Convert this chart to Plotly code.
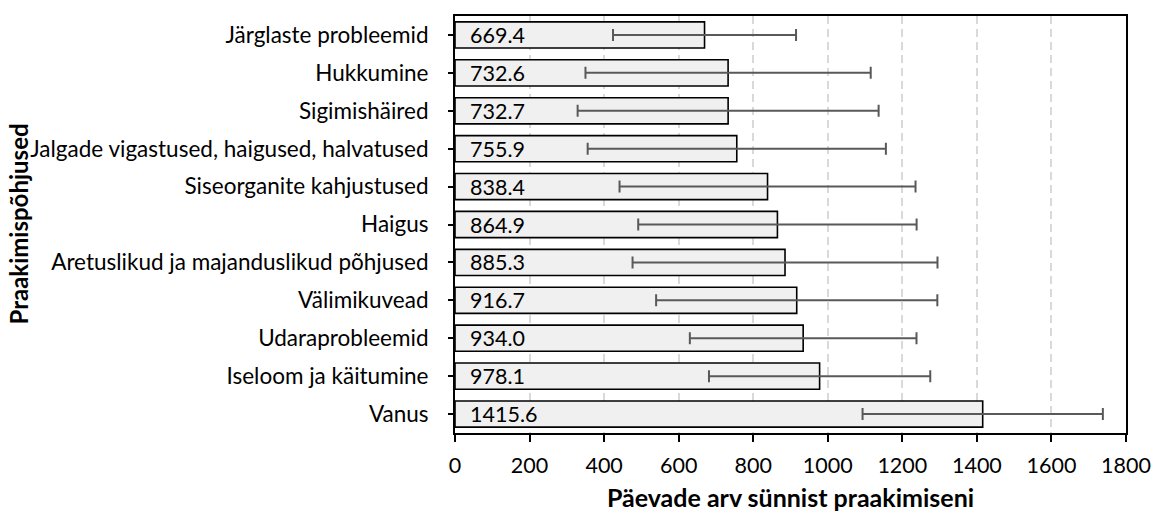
import plotly.graph_objects as go

categories = [
    "Järglaste probleemid",
    "Hukkumine",
    "Sigimishäired",
    "Jalgade vigastused, haigused, halvatused",
    "Siseorganite kahjustused",
    "Haigus",
    "Aretuslikud ja majanduslikud põhjused",
    "Välimikuvead",
    "Udaraprobleemid",
    "Iseloom ja käitumine",
    "Vanus",
]
mean_days = [669.4, 732.6, 732.7, 755.9, 838.4, 864.9, 885.3, 916.7, 934.0, 978.1, 1415.6]
std_days = [245.5, 382.6, 403.7, 400.0, 397.0, 373.4, 409.0, 377.2, 304.0, 296.8, 322.3]
x_ticks = [0, 200, 400, 600, 800, 1000, 1200, 1400, 1600, 1800]

FONT = "Lato"

fig = go.Figure()
fig.add_trace(go.Bar(
    x=mean_days,
    y=categories,
    orientation="h",
    marker=dict(color="#f0f0f0", line=dict(color="black", width=1.6)),
    error_x=dict(type="data", array=std_days, visible=True,
                 color="#595959", thickness=2, width=6),
    showlegend=False,
    hoverinfo="x+y",
))

for c, v in zip(categories, mean_days):
    fig.add_annotation(x=0, y=c, text=f"{v:.1f}", xref="x", yref="y",
                       xanchor="left", yanchor="middle", xshift=13,
                       showarrow=False,
                       font=dict(family=FONT, size=21.5, color="black"))

fig.update_layout(
    width=1153, height=516,
    margin=dict(l=455, r=27, t=16, b=83, autoexpand=False),
    paper_bgcolor="white", plot_bgcolor="white",
    bargap=0.31,
    font=dict(family=FONT, size=22, color="black"),
)
fig.update_xaxes(
    automargin=False,
    range=[0, 1800], tickvals=x_ticks, ticktext=[str(t) for t in x_ticks],
    showgrid=True, gridcolor="#d9d9d9", gridwidth=1.5, griddash="8px,5px",
    zeroline=False, showline=True, linecolor="black", linewidth=2, mirror=True,
    ticks="outside", ticklen=7, tickwidth=1.5, tickcolor="black",
    ticklabelstandoff=5,
    tickfont=dict(family=FONT, size=21.5, color="black"),
    title=dict(text="<b>Päevade arv sünnist praakimiseni</b>", standoff=13,
               font=dict(family=FONT, size=25, color="black")),
)
fig.update_yaxes(
    automargin=False,
    autorange="reversed",
    showgrid=False, zeroline=False, showline=True, linecolor="black",
    linewidth=2, mirror=True,
    ticks="outside", ticklen=5, tickwidth=1.5, tickcolor="black",
    ticklabelstandoff=15,
    tickfont=dict(family=FONT, size=22.5, color="black"),
)
fig.add_annotation(text="<b>Praakimispõhjused</b>", xref="paper", yref="paper",
                   x=0, y=0.5, xshift=-437, textangle=-90, showarrow=False,
                   xanchor="center", yanchor="middle",
                   font=dict(family=FONT, size=24, color="black"))

fig.write_html("out.html", config={"displayModeBar": False},
               post_script="document.body.style.margin='0';document.body.style.padding='0';")
